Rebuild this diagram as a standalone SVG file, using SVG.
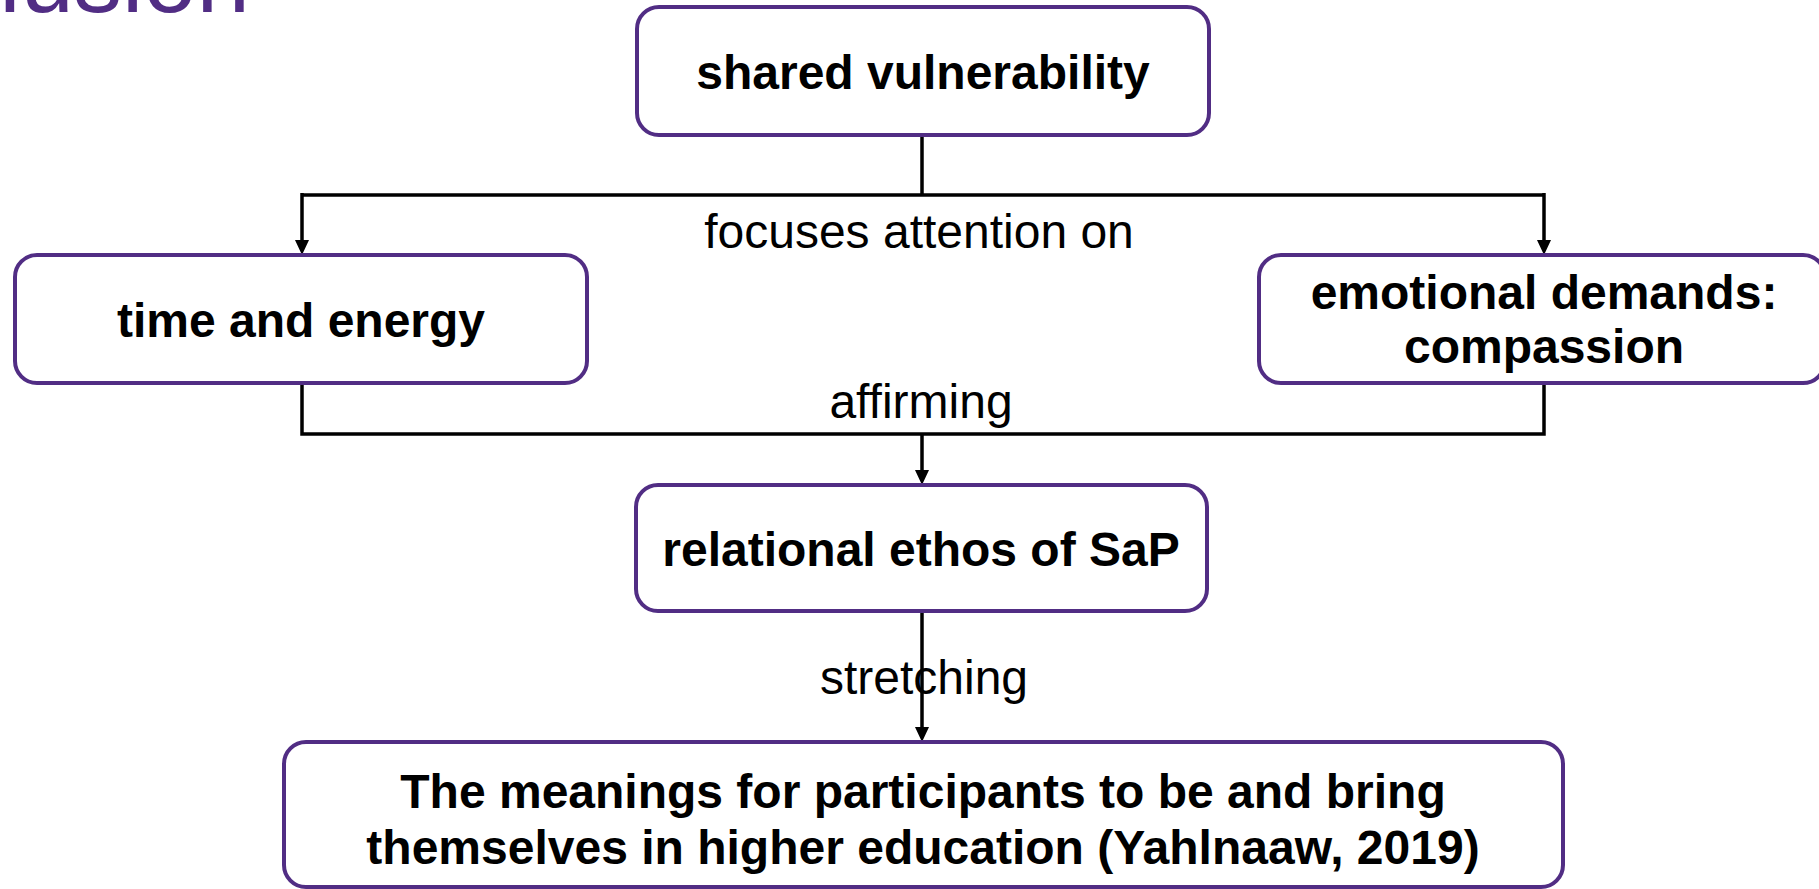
<svg xmlns="http://www.w3.org/2000/svg" width="1819" height="889" viewBox="0 0 1819 889">
<style>
.box{fill:#fff;stroke:#512D84;stroke-width:4}
.nt{font-family:"Liberation Sans",Arial,sans-serif;font-weight:bold;font-size:48px;fill:#000;text-anchor:middle}
.lt{font-family:"Liberation Sans",Arial,sans-serif;font-size:48px;fill:#000;text-anchor:middle}
.ln{fill:none;stroke:#000;stroke-width:3.5}
.title{font-family:"Liberation Sans",Arial,sans-serif;font-size:96px;fill:#512D84}
</style>
<rect width="1819" height="889" fill="#fff"/>
<text class="title" x="250" y="12" text-anchor="end">Conclusion</text>

<g id="connectors">
<path class="ln" d="M922,135 V195 M302,195 H1544"/>
<line class="ln" x1="302" y1="193" x2="302" y2="241"/>
<path d="M295,240 L309,240 L302,255 Z" fill="#000"/>
<line class="ln" x1="1544" y1="193" x2="1544" y2="241"/>
<path d="M1537,240 L1551,240 L1544,255 Z" fill="#000"/>
<text class="lt" x="919" y="248">focuses attention on</text>
<path class="ln" d="M302,383 V434 H1544 V383"/>
<line class="ln" x1="922" y1="434" x2="922" y2="471"/>
<path d="M915,470 L929,470 L922,485 Z" fill="#000"/>
<text class="lt" x="921" y="418">affirming</text>
<text class="lt" x="924" y="694">stretching</text>
<line class="ln" x1="922" y1="611" x2="922" y2="728"/>
<path d="M915,727 L929,727 L922,742 Z" fill="#000"/>
</g>

<g id="node-shared">
<rect class="box" x="637" y="7" width="572" height="128" rx="22"/>
<text class="nt" x="923" y="89">shared vulnerability</text>
</g>
<g id="node-time">
<rect class="box" x="15" y="255" width="572" height="128" rx="22"/>
<text class="nt" x="301" y="337">time and energy</text>
</g>
<g id="node-emotional">
<rect class="box" x="1259" y="255" width="566" height="128" rx="22"/>
<text class="nt" x="1544" y="309">emotional demands:</text>
<text class="nt" x="1544" y="363">compassion</text>
</g>
<g id="node-relational">
<rect class="box" x="636" y="485" width="571" height="126" rx="22"/>
<text class="nt" x="921" y="566">relational ethos of SaP</text>
</g>
<g id="node-meanings">
<rect class="box" x="284" y="742" width="1279" height="145" rx="22"/>
<text class="nt" x="923" y="808">The meanings for participants to be and bring</text>
<text class="nt" x="923" y="864">themselves in higher education (Yahlnaaw, 2019)</text>
</g>
</svg>
